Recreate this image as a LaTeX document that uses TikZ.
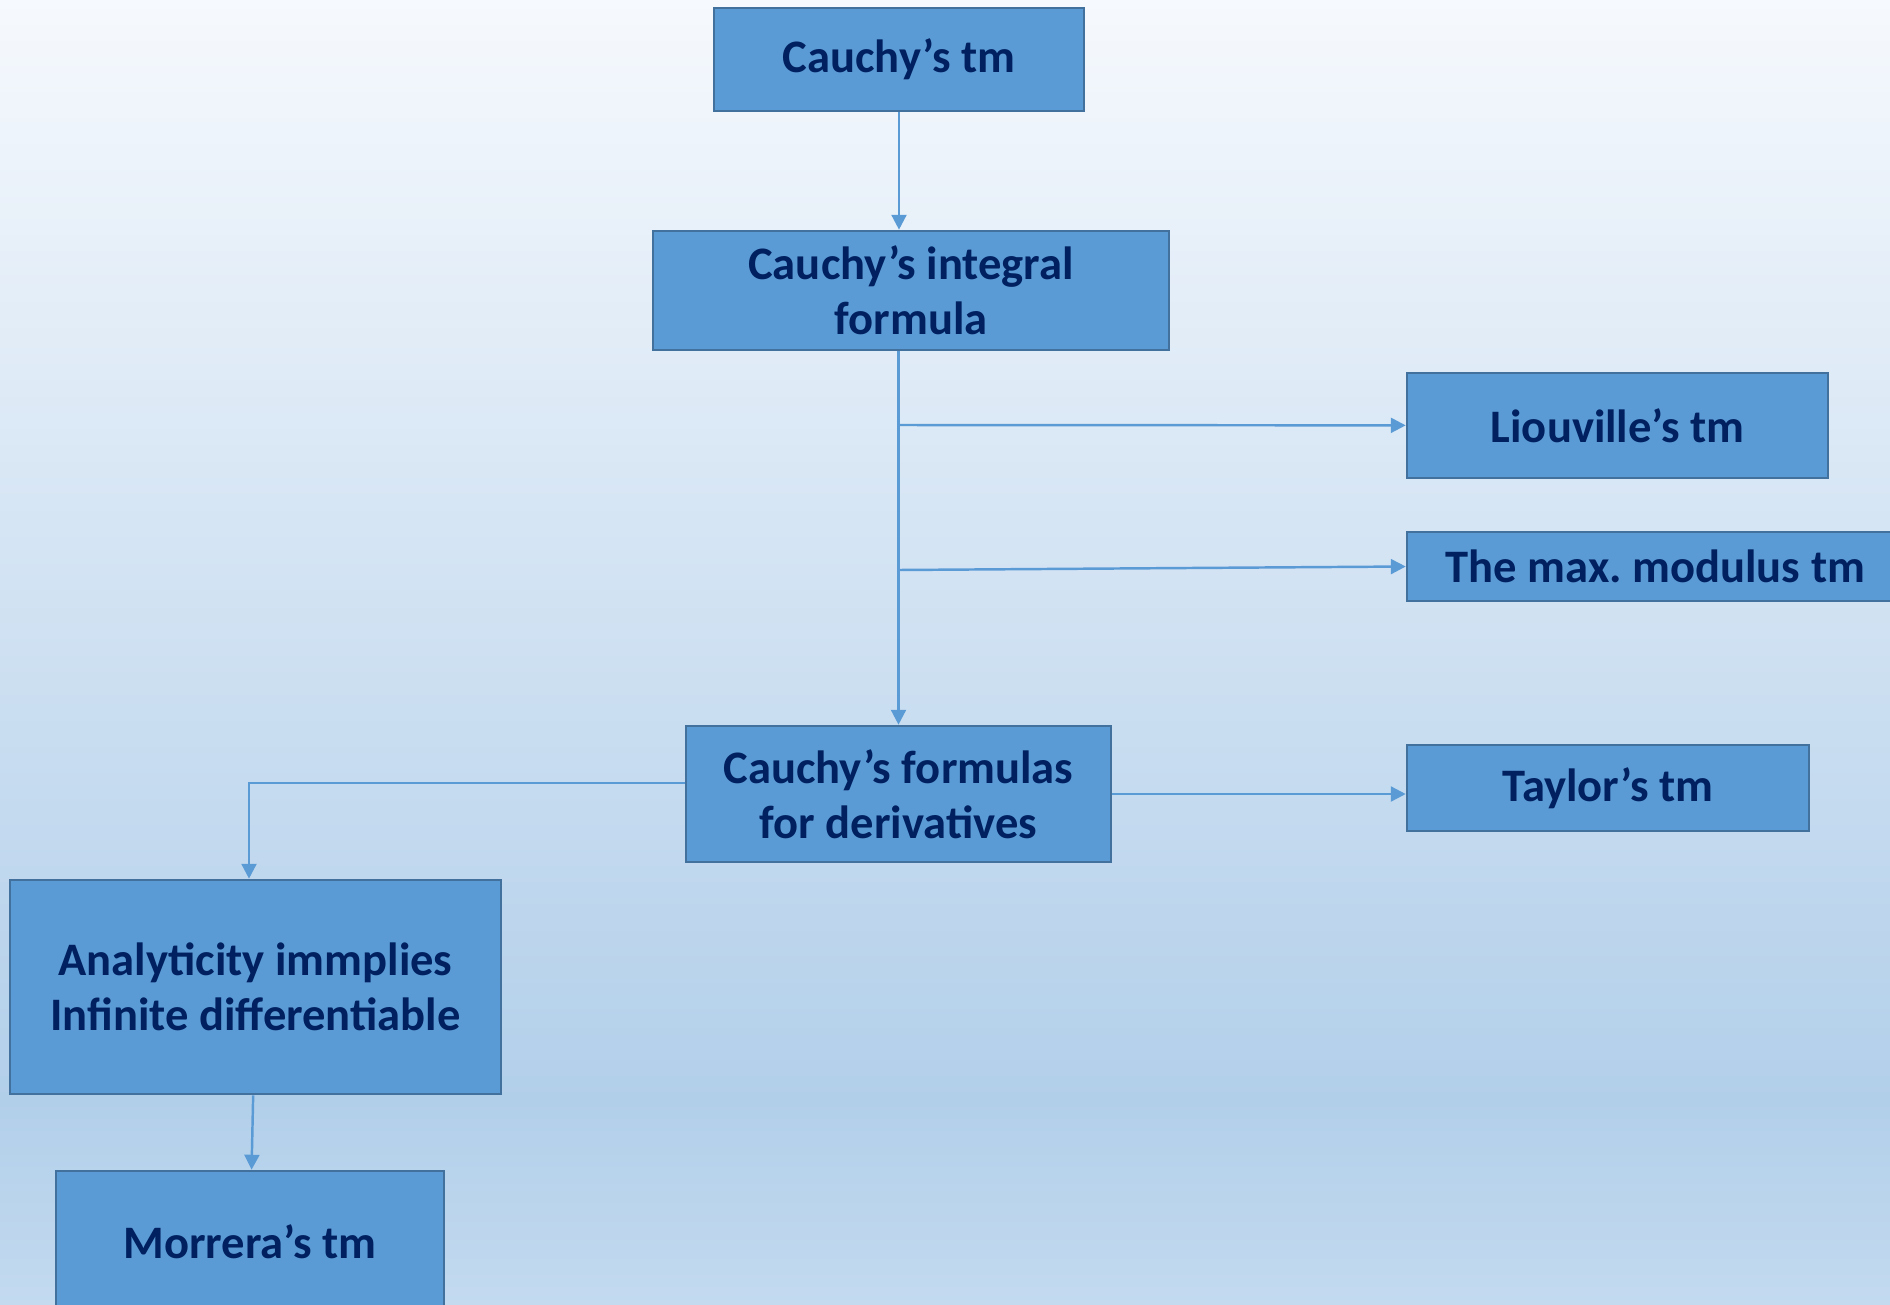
\documentclass[tikz,border=0pt]{standalone}
\usepackage{fontspec}
\setmainfont{Carlito}
\usepackage{xcolor}
\usetikzlibrary{arrows.meta}

\definecolor{boxfill}{HTML}{5B9BD5}
\definecolor{boxline}{HTML}{41719C}
\definecolor{boxtext}{HTML}{002060}
\definecolor{bgtop}{HTML}{F6F9FD}
\definecolor{bgmid}{HTML}{B2CFEA}
\definecolor{bgbot}{HTML}{C3DAEF}

\tikzset{
  thm/.style={draw=boxline, fill=boxfill, line width=1.5pt, text=boxtext,
    align=center, inner sep=0pt,
    font=\fontsize{26.5}{31.3}\selectfont\bfseries},
  link/.style={draw=boxfill, line width=1.4pt,
    -{Triangle[length=8.5pt,width=8.5pt]}}
}

\begin{document}
\frenchspacing
\begin{tikzpicture}[x=0.02cm, y=-0.02cm]

	% page and background
	\useasboundingbox (0,0) rectangle (1890,1305);
	\clip (0,0) rectangle (1890,1305);
	\shade[top color=bgtop, bottom color=bgmid] (0,0) rectangle (1890,1100);
	\shade[top color=bgmid, bottom color=bgbot] (0,1100) rectangle (1890,1305);

	% theorem boxes
	\node[thm, minimum width=7.4cm, minimum height=2.06cm] (tm) at (899,59.5) {Cauchy’s tm};
	\node[thm, minimum width=10.32cm, minimum height=2.38cm] (integral) at (911,290.5) {Cauchy’s integral\\formula};
	\node[thm, minimum width=8.42cm, minimum height=2.1cm] (liouville) at (1617.5,425.5) {Liouville’s tm};
	\node[thm, minimum width=9.94cm, minimum height=1.38cm] (maxmod) at (1655.5,566.5) {The max. modulus tm};
	\node[thm, minimum width=8.5cm, minimum height=2.72cm] (formulas) at (898.5,794) {Cauchy’s formulas\\for derivatives};
	\node[thm, minimum width=8.04cm, minimum height=1.72cm] (taylor) at (1608,788) {Taylor’s tm};
	\node[thm, minimum width=9.82cm, minimum height=4.28cm] (analyt) at (255.5,987) {Analyticity immplies\\Infinite differentiable};
	\node[thm, minimum width=7.76cm, minimum height=2.84cm] (morrera) at (250,1242) {Morrera’s tm};

	% branch points on the trunk
	\coordinate (b1) at (898,425);
	\coordinate (b2) at (898,570);

	% connecting arrows
	\draw[link] (tm) -- (tm |- integral.north);
	\draw[link] (integral.south -| formulas) -- (formulas);
	\draw[link] (b1) -- (liouville);
	\draw[link] (b2) -- (maxmod.west);
	\draw[link] (formulas.east) -- (formulas.east -| taylor.west);
	\draw[link] ([yshift=0.22cm]formulas.west) -| ([xshift=-0.13cm]analyt.north);
	\draw[link] (analyt) -- (morrera);

\end{tikzpicture}
\end{document}
